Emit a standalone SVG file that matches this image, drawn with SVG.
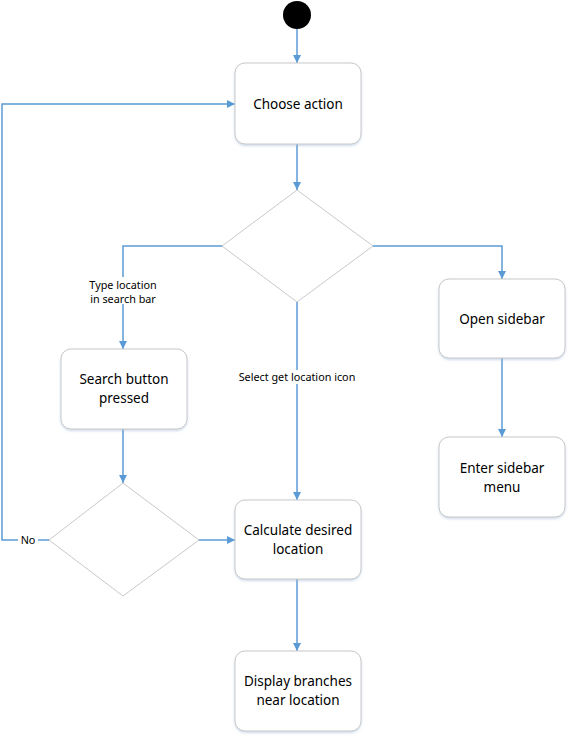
<svg xmlns="http://www.w3.org/2000/svg" width="572" height="740" viewBox="0 0 572 740">
<style>
.box{fill:#fff;stroke:#c9c9c9;stroke-width:1}
.dia{fill:#fff;stroke:#c9c9c9;stroke-width:1}
.t{font-family:"Noto Sans","Open Sans",sans-serif;font-size:13.5px;fill:#000;text-anchor:middle}
.l{font-family:"Noto Sans","Open Sans",sans-serif;font-size:10.8px;fill:#000;text-anchor:middle}
.c{fill:none;stroke:#5b9bd5;stroke-width:1.5}
</style>
<defs>
<marker id="ah" viewBox="0 0 10 10" refX="10" refY="5" markerWidth="8" markerHeight="8" markerUnits="userSpaceOnUse" orient="auto">
<path d="M0,0 L10,5 L0,10 z" fill="#5b9bd5"/>
</marker>
<filter id="ds" x="-10%" y="-10%" width="120%" height="130%"><feDropShadow dx="0" dy="1.5" stdDeviation="1.2" flood-color="#9fb8d6" flood-opacity="0.5"/></filter>
</defs>
<g id="connectors">
<path class="c" d="M297,29 V63" marker-end="url(#ah)"/>
<path class="c" d="M297,144 V190" marker-end="url(#ah)"/>
<path class="c" d="M222,246 H123 V349" marker-end="url(#ah)"/>
<path class="c" d="M373,246 H502 V279" marker-end="url(#ah)"/>
<path class="c" d="M297,302 V500" marker-end="url(#ah)"/>
<path class="c" d="M123,429 V483" marker-end="url(#ah)"/>
<path class="c" d="M49,540 H2 V104 H235" marker-end="url(#ah)"/>
<path class="c" d="M199,540 H235" marker-end="url(#ah)"/>
<path class="c" d="M297,579 V651" marker-end="url(#ah)"/>
<path class="c" d="M502,358 V437" marker-end="url(#ah)"/>
<rect x="84" y="277" width="78" height="27" fill="#fff"/>
<text class="l" x="123" y="289">Type location</text>
<text class="l" x="123" y="303">in search bar</text>
<rect x="231" y="370" width="132" height="14" fill="#fff"/>
<text class="l" x="297" y="381">Select get location icon</text>
<rect x="18" y="533" width="20" height="14" fill="#fff"/>
<text class="l" x="28" y="544">No</text>
</g>
<g id="start"><circle cx="297" cy="15" r="14" fill="#000"/></g>
<g id="choose"><rect class="box" filter="url(#ds)" x="235" y="63" width="126" height="81" rx="10"/><text class="t" x="298" y="108.5">Choose action</text></g>
<g id="decision1"><path class="dia" d="M297,190 L373,246 L297,302 L222,246 z"/></g>
<g id="search"><rect class="box" filter="url(#ds)" x="61" y="349" width="126" height="80" rx="10"/><text class="t" x="124" y="383.5">Search button</text><text class="t" x="124" y="402.5">pressed</text></g>
<g id="decision2"><path class="dia" d="M123,483 L199,540 L123,596 L49,540 z"/></g>
<g id="calculate"><rect class="box" filter="url(#ds)" x="235" y="500" width="126" height="79" rx="10"/><text class="t" x="298" y="534.5">Calculate desired</text><text class="t" x="298" y="553.5">location</text></g>
<g id="display"><rect class="box" filter="url(#ds)" x="235" y="651" width="126" height="80" rx="10"/><text class="t" x="298" y="685.5">Display branches</text><text class="t" x="298" y="704.5">near location</text></g>
<g id="open"><rect class="box" filter="url(#ds)" x="439" y="279" width="126" height="79" rx="10"/><text class="t" x="502" y="323.5">Open sidebar</text></g>
<g id="enter"><rect class="box" filter="url(#ds)" x="439" y="437" width="126" height="80" rx="10"/><text class="t" x="502" y="472.5">Enter sidebar</text><text class="t" x="502" y="491.5">menu</text></g>
</svg>
